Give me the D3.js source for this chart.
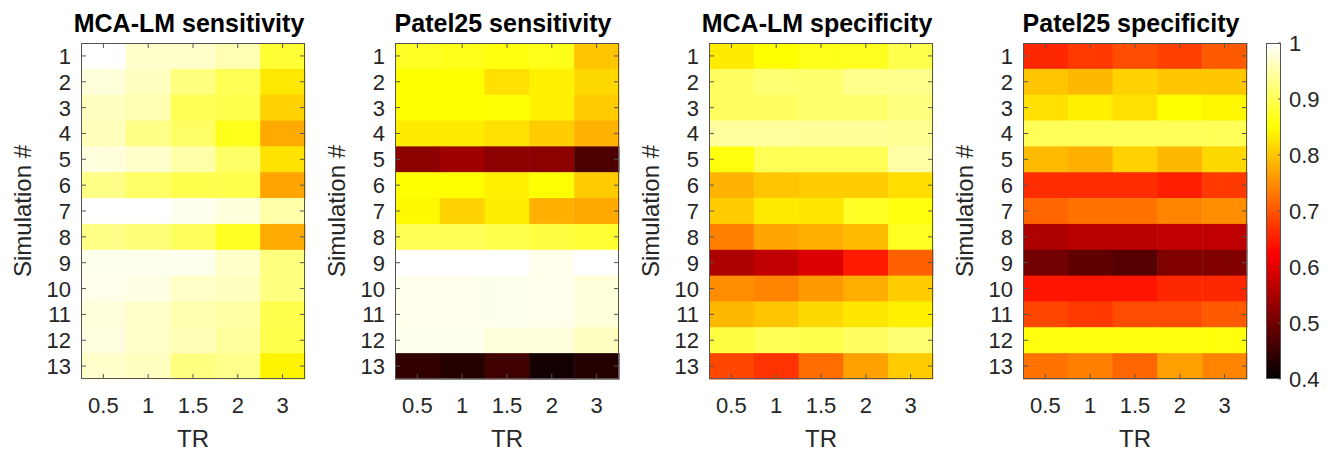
<!DOCTYPE html>
<html>
<head>
<meta charset="utf-8">
<script src="https://cdn.jsdelivr.net/npm/d3@7"></script>
<style>
  body { margin: 0; background: #fff; }
  text { font-family: "Liberation Sans", Arial, sans-serif; }
</style>
</head>
<body>
<svg id="chart" width="1336" height="455"></svg>
<script>
// categories
const trLabels = ['0.5', '1', '1.5', '2', '3']
const simLabels = d3.range(1, 14).map(String)
const titles = ['MCA-LM sensitivity', 'Patel25 sensitivity', 'MCA-LM specificity', 'Patel25 specificity']
const colorTicks = [0.4, 0.5, 0.6, 0.7, 0.8, 0.9, 1]

// values, rows = simulation 1..13, cols = TR
const mcaSens = [
  [1.00, 0.970, 0.970, 0.955, 0.880],
  [0.978, 0.963, 0.925, 0.900, 0.830],
  [0.963, 0.955, 0.900, 0.895, 0.810],
  [0.960, 0.930, 0.910, 0.865, 0.775],
  [0.980, 0.970, 0.950, 0.910, 0.825],
  [0.930, 0.910, 0.895, 0.895, 0.770],
  [1.00, 1.00, 0.990, 0.980, 0.950],
  [0.930, 0.920, 0.905, 0.870, 0.775],
  [0.990, 0.990, 0.990, 0.970, 0.925],
  [0.988, 0.985, 0.967, 0.963, 0.925],
  [0.978, 0.967, 0.952, 0.948, 0.895],
  [0.982, 0.970, 0.958, 0.943, 0.895],
  [0.970, 0.963, 0.925, 0.932, 0.840]
]
const patelSens = [
  [0.872, 0.865, 0.858, 0.865, 0.800],
  [0.850, 0.850, 0.823, 0.838, 0.816],
  [0.850, 0.850, 0.852, 0.838, 0.805],
  [0.832, 0.832, 0.823, 0.805, 0.783],
  [0.524, 0.540, 0.524, 0.524, 0.468],
  [0.850, 0.850, 0.838, 0.852, 0.805],
  [0.845, 0.810, 0.834, 0.780, 0.773],
  [0.900, 0.900, 0.895, 0.888, 0.880],
  [1.00, 1.00, 1.00, 0.988, 1.00],
  [0.988, 0.988, 0.990, 0.988, 0.978],
  [0.988, 0.988, 0.990, 0.988, 0.978],
  [0.990, 0.990, 0.978, 0.978, 0.963],
  [0.445, 0.432, 0.456, 0.418, 0.432]
]
const mcaSpec = [
  [0.832, 0.850, 0.865, 0.868, 0.895],
  [0.907, 0.918, 0.913, 0.932, 0.932],
  [0.907, 0.907, 0.913, 0.913, 0.925],
  [0.943, 0.943, 0.940, 0.940, 0.937],
  [0.857, 0.900, 0.900, 0.900, 0.948],
  [0.783, 0.800, 0.805, 0.805, 0.820],
  [0.805, 0.832, 0.828, 0.872, 0.858],
  [0.737, 0.770, 0.780, 0.790, 0.870],
  [0.553, 0.569, 0.596, 0.648, 0.710],
  [0.749, 0.742, 0.760, 0.778, 0.805],
  [0.787, 0.800, 0.816, 0.828, 0.838],
  [0.888, 0.900, 0.895, 0.907, 0.918],
  [0.688, 0.670, 0.720, 0.767, 0.805]
]
const patelSpec = [
  [0.659, 0.675, 0.693, 0.681, 0.704],
  [0.800, 0.787, 0.810, 0.800, 0.800],
  [0.823, 0.838, 0.823, 0.850, 0.843],
  [0.902, 0.902, 0.902, 0.902, 0.902],
  [0.790, 0.780, 0.810, 0.787, 0.816],
  [0.665, 0.665, 0.665, 0.652, 0.675],
  [0.715, 0.726, 0.726, 0.742, 0.749],
  [0.553, 0.562, 0.562, 0.569, 0.569],
  [0.501, 0.486, 0.474, 0.513, 0.513],
  [0.643, 0.643, 0.643, 0.659, 0.659],
  [0.688, 0.675, 0.693, 0.693, 0.704],
  [0.857, 0.857, 0.857, 0.857, 0.857],
  [0.726, 0.737, 0.715, 0.765, 0.742]
]
const panels = [mcaSens, patelSens, mcaSpec, patelSpec]

// matlab "hot"
function hot (t) {
  t = Math.max(0, Math.min(1, t))
  const r = Math.min(1, t / 0.375)
  const g = Math.max(0, Math.min(1, (t - 0.375) / 0.375))
  const b = Math.max(0, Math.min(1, (t - 0.75) / 0.25))
  return d3.rgb(r * 255, g * 255, b * 255).toString()
}
const color = d3.scaleSequential(hot).domain([0.4, 1])

const svg = d3.select('#chart')
const yTop = 43
const yBottom = 379
const pw = 224
const panelX = [81, 395, 709, 1023]
const axisCol = '#555'
const textCol = '#262626'
const tickLen = 5

const y = d3.scaleBand().domain(simLabels).range([yTop, yBottom])

panels.forEach(function (data, p) {
  const x = d3.scaleBand().domain(trLabels).range([panelX[p], panelX[p] + pw])
  const g = svg.append('g')

  data.forEach(function (row, i) {
    g.selectAll(null)
      .data(row)
      .enter()
      .append('rect')
      .attr('x', (d, j) => x(trLabels[j]))
      .attr('y', y(simLabels[i]))
      .attr('width', x.bandwidth() + 0.5)
      .attr('height', y.bandwidth() + 0.5)
      .attr('fill', d => color(d))
  })

  // box
  g.append('rect')
    .attr('x', panelX[p] + 0.5).attr('y', yTop + 0.5)
    .attr('width', pw - 1).attr('height', yBottom - yTop - 1)
    .attr('fill', 'none').attr('stroke', axisCol).attr('stroke-width', 1)

  // inward ticks
  const xt = trLabels.map(d => x(d) + x.bandwidth() / 2)
  const yt = simLabels.map(d => y(d) + y.bandwidth() / 2)
  xt.forEach(function (px) {
    g.append('line').attr('x1', px).attr('x2', px).attr('y1', yTop).attr('y2', yTop + tickLen).attr('stroke', axisCol)
    g.append('line').attr('x1', px).attr('x2', px).attr('y1', yBottom).attr('y2', yBottom - tickLen).attr('stroke', axisCol)
  })
  yt.forEach(function (py) {
    g.append('line').attr('x1', panelX[p]).attr('x2', panelX[p] + tickLen).attr('y1', py).attr('y2', py).attr('stroke', axisCol)
    g.append('line').attr('x1', panelX[p] + pw).attr('x2', panelX[p] + pw - tickLen).attr('y1', py).attr('y2', py).attr('stroke', axisCol)
  })

  // tick labels
  g.selectAll(null).data(trLabels).enter().append('text')
    .attr('x', d => x(d) + x.bandwidth() / 2)
    .attr('y', 413)
    .attr('text-anchor', 'middle')
    .attr('font-size', 22)
    .attr('fill', textCol)
    .text(d => d)
  g.selectAll(null).data(simLabels).enter().append('text')
    .attr('x', panelX[p] - 10)
    .attr('y', d => y(d) + y.bandwidth() / 2 + 8)
    .attr('text-anchor', 'end')
    .attr('font-size', 22)
    .attr('fill', textCol)
    .text(d => d)

  // labels
  g.append('text')
    .attr('x', panelX[p] + pw / 2).attr('y', 447)
    .attr('text-anchor', 'middle').attr('font-size', 24).attr('fill', textCol)
    .text('TR')
  g.append('text')
    .attr('transform', 'translate(' + (panelX[p] - 50) + ',' + ((yTop + yBottom) / 2) + ') rotate(-90)')
    .attr('text-anchor', 'middle').attr('font-size', 24).attr('fill', textCol)
    .text('Simulation #')
  g.append('text')
    .attr('x', panelX[p] + pw / 2 - 4).attr('y', 32)
    .attr('text-anchor', 'middle').attr('font-size', 25).attr('font-weight', 'bold').attr('fill', '#000')
    .text(titles[p])
})

// colorbar
const cbX = 1266
const cbW = 15
const cy = d3.scaleLinear().domain([0.4, 1]).range([yBottom, yTop])
const defs = svg.append('defs')
const grad = defs.append('linearGradient').attr('id', 'cbgrad')
  .attr('x1', 0).attr('y1', 1).attr('x2', 0).attr('y2', 0)
d3.range(0, 1.0001, 0.02).forEach(function (t) {
  grad.append('stop').attr('offset', t).attr('stop-color', hot(t))
})
svg.append('rect').attr('x', cbX).attr('y', yTop).attr('width', cbW).attr('height', yBottom - yTop)
  .attr('fill', 'url(#cbgrad)')
svg.append('rect').attr('x', cbX + 0.5).attr('y', yTop + 0.5).attr('width', cbW - 1).attr('height', yBottom - yTop - 1)
  .attr('fill', 'none').attr('stroke', axisCol)
colorTicks.forEach(function (v) {
  svg.append('line').attr('x1', cbX + cbW).attr('x2', cbX + cbW - 3)
    .attr('y1', cy(v)).attr('y2', cy(v)).attr('stroke', axisCol)
  svg.append('text').attr('x', cbX + cbW + 8).attr('y', cy(v) + 8)
    .attr('font-size', 22).attr('fill', textCol).text(v)
})
</script>
</body>
</html>
